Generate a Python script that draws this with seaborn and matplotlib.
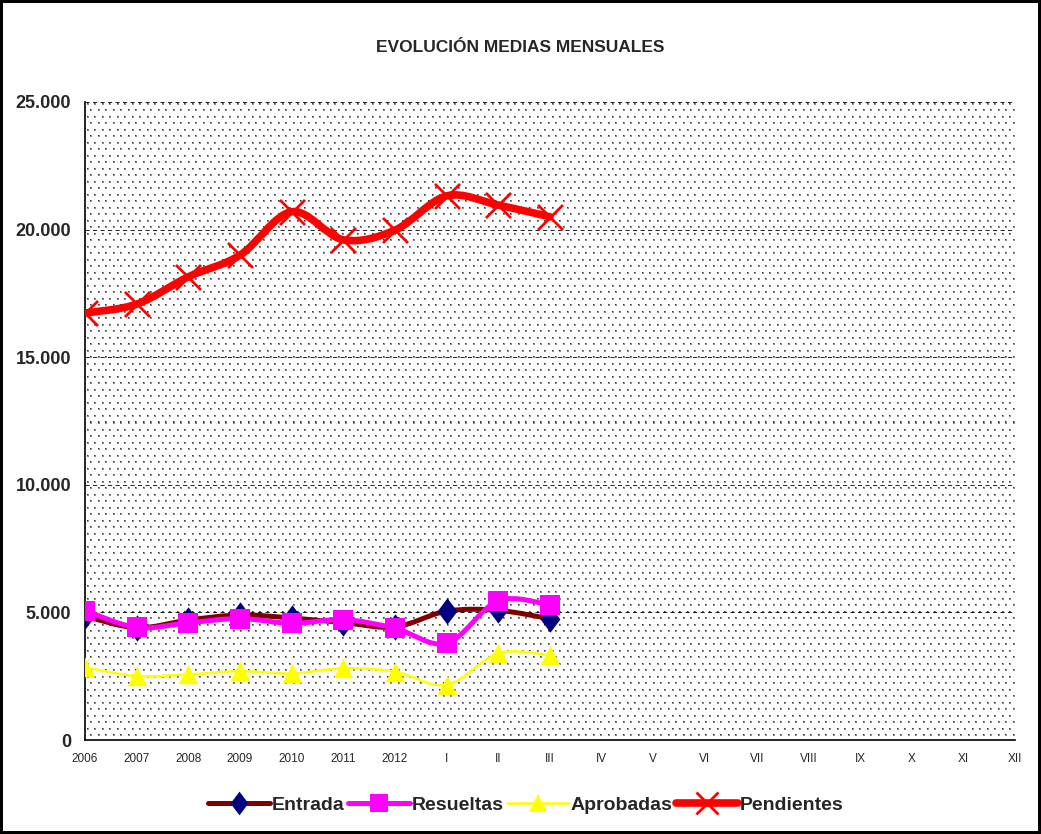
import numpy as np
import matplotlib
matplotlib.use('Agg')
import matplotlib.pyplot as plt
import seaborn as sns
from matplotlib.path import Path
from matplotlib.patches import PathPatch
from matplotlib.lines import Line2D
from matplotlib.ticker import FuncFormatter

# Data (monthly averages)
categories = ['2006', '2007', '2008', '2009', '2010', '2011', '2012',
              'I', 'II', 'III', 'IV', 'V', 'VI', 'VII', 'VIII', 'IX', 'X', 'XI', 'XII']
entrada = [4850, 4400, 4700, 4900, 4780, 4600, 4430, 5050, 5080, 4750]
resueltas = [5070, 4410, 4590, 4760, 4570, 4720, 4380, 3790, 5460, 5290]
aprobadas = [2850, 2510, 2570, 2700, 2610, 2810, 2680, 2160, 3400, 3330]
pendientes = [16730, 17080, 18150, 19000, 20700, 19600, 19980, 21320, 20960, 20500]

title = 'EVOLUCIÓN MEDIAS MENSUALES'
y_max = 25000

sns.set_style('white')
plt.rcParams['font.family'] = ['Liberation Sans', 'DejaVu Sans']

W, H = 1041, 834
fig = plt.figure(figsize=(W / 100, H / 100), dpi=100)
fig.patch.set_edgecolor('black')
fig.patch.set_linewidth(4)
ax_rect = [0.0817, 0.1127, 0.8933, 0.765]
ax = fig.add_axes(ax_rect)

# dotted plot-area fill (Excel pattern), one texture pixel per screen pixel
pw, ph = int(round(ax_rect[2] * W)), int(round(ax_rect[3] * H))
tex = np.ones((ph, pw))
for r, yy in enumerate(np.arange(2, ph, 6.5)):
    off = 2 if r % 2 == 0 else 5.75
    for xx in np.arange(off, pw, 7.5):
        iy, ix = int(yy), int(xx)
        tex[iy:iy + 2, ix:ix + 2] = 0.55
        tex[iy, ix] = 0.2
ax.imshow(tex, cmap='gray', vmin=0, vmax=1, extent=(0, len(categories) - 1, 0, y_max),
          aspect='auto', interpolation='nearest', zorder=-1)

# Excel-style diamond (a bit taller than wide)
diamond = [(0, 1), (0.75, 0), (0, -1), (-0.75, 0), (0, 1)]


def smooth_path(xs, ys):
    # smoothed line: cubic Bezier through every point
    pts = np.column_stack([xs, ys]).astype(float)
    verts = [tuple(pts[0])]
    codes = [Path.MOVETO]
    n = len(pts)
    for i in range(n - 1):
        p0 = pts[i - 1] if i > 0 else pts[i]
        p1 = pts[i]
        p2 = pts[i + 1]
        p3 = pts[i + 2] if i + 2 < n else pts[i + 1]
        c1 = p1 + (p2 - p0) / 6.0
        c2 = p2 - (p3 - p1) / 6.0
        verts += [tuple(c1), tuple(c2), tuple(p2)]
        codes += [Path.CURVE4] * 3
    return Path(verts, codes)


series = [
    ('Entrada', entrada, '#800000', 3.6, diamond, 19, '#000080', 3),
    ('Resueltas', resueltas, '#FF00FF', 3.6, 's', 14, '#FF00FF', 4),
    ('Aprobadas', aprobadas, '#FFFF00', 1.8, '^', 14, '#FFFF00', 5),
    ('Pendientes', pendientes, '#FF0000', 5.5, 'x', 18, '#FF0000', 6),
]

handles = []
for name, vals, lc, lw, mk, ms, mc, z in series:
    xs = np.arange(len(vals))
    patch = PathPatch(smooth_path(xs, vals), fill=False, edgecolor=lc, lw=lw,
                      capstyle='round', joinstyle='round', zorder=z)
    ax.add_patch(patch)
    if mk == 'x':
        sns.scatterplot(x=xs, y=vals, marker='x', s=ms ** 2, color=mc,
                        linewidth=2, ax=ax, zorder=z + 0.5, legend=False)
    else:
        sns.scatterplot(x=xs, y=vals, marker=mk, s=ms ** 2, color=mc,
                        edgecolor=mc, linewidth=0, ax=ax, zorder=z + 0.5, legend=False)
    handles.append(Line2D([0], [0], color=lc, lw=lw, marker=mk, markersize=ms * 0.9,
                          markerfacecolor=mc, markeredgecolor=mc,
                          markeredgewidth=2 if mk == 'x' else 0,
                          solid_capstyle='round'))

ax.set_xlim(0, len(categories) - 1)
ax.set_ylim(0, y_max)
ax.set_xticks(range(len(categories)))
ax.set_xticklabels(categories, fontsize=8.5)
ax.set_yticks(range(0, y_max + 1, 5000))
ax.yaxis.set_major_formatter(FuncFormatter(lambda v, p: f'{int(v):,}'.replace(',', '.')))
for lab in ax.get_yticklabels():
    lab.set_fontweight('bold')
    lab.set_fontsize(13)

ax.grid(axis='y', color='black', linestyle=(0, (5, 4)), linewidth=0.6, zorder=0)
ax.grid(axis='x', visible=False)
ax.set_axisbelow(False)
for line in ax.get_ygridlines():
    line.set_zorder(0)
for s in ['top', 'right']:
    ax.spines[s].set_visible(False)
for s in ['left', 'bottom']:
    ax.spines[s].set_color('black')
    ax.spines[s].set_linewidth(1.2)
ax.tick_params(axis='both', direction='inout', length=8, width=1, color='black', pad=6)
ax.tick_params(axis='x', pad=5)
ax.set_xlabel('')
ax.set_ylabel('')

fig.text(0.5, 0.943, title, ha='center', va='center', fontsize=12.5, fontweight='bold')

leg = fig.legend(handles, [s[0] for s in series], loc='center', bbox_to_anchor=(0.505, 0.035),
                 ncol=4, frameon=False, handlelength=3.2, columnspacing=0.15, handletextpad=0.1,
                 prop={'weight': 'bold', 'size': 14})

fig.savefig('out.png', dpi=100)
